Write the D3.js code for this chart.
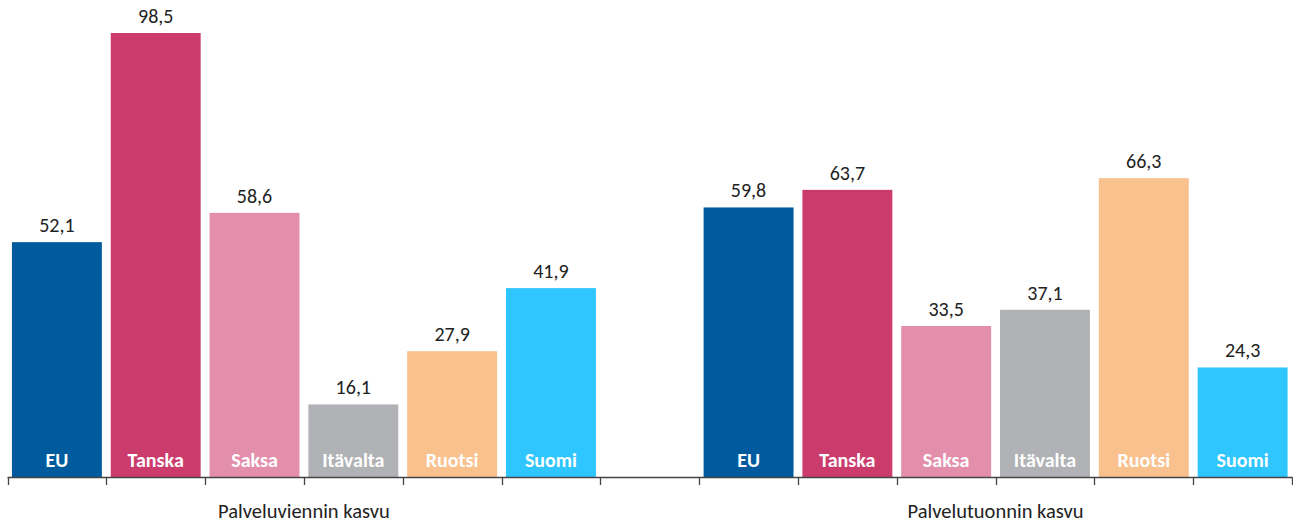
<!DOCTYPE html>
<html>
<head>
<meta charset="utf-8">
<script src="https://cdn.jsdelivr.net/npm/d3@7"></script>
<style>
  body { margin: 0; background: #fff; }
  svg { display: block; }
</style>
</head>
<body>
<svg id="chart" width="1293" height="523"></svg>
<script>
// Données
const groups = ["Palveluviennin kasvu", "Palvelutuonnin kasvu"];
const countries = ["EU", "Tanska", "Saksa", "Itävalta", "Ruotsi", "Suomi"];
const exportValues = [52.1, 98.5, 58.6, 16.1, 27.9, 41.9];
const importValues = [59.8, 63.7, 33.5, 37.1, 66.3, 24.3];
const colors = ["#005a9e", "#cb3c6d", "#e38fab", "#b1b2b5", "#f9c18e", "#2fc5fe"];

const svg = d3.select("#chart");
const font = "Carlito, 'Open Sans', sans-serif";

// rows : 6 barres, une case vide, 6 barres
const rows = [];
exportValues.forEach((v, i) => rows.push({key: "a" + i, name: countries[i], value: v, color: colors[i]}));
rows.push({key: "gap", name: "", value: null});
importValues.forEach((v, i) => rows.push({key: "b" + i, name: countries[i], value: v, color: colors[i]}));

const x = d3.scaleBand()
    .domain(rows.map(d => d.key))
    .range([7.5, 1292])
    .paddingInner(0.09)
    .paddingOuter(0.045);

const y = d3.scaleLinear()
    .domain([0, 98.5])
    .range([477, 33]);

const step = x.step();
const x0 = 7.5;

// Barres
const bars = svg.selectAll(".bar")
    .data(rows.filter(d => d.value !== null))
    .enter()
    .append("g");

bars.append("rect")
    .attr("x", d => x(d.key))
    .attr("width", x.bandwidth())
    .attr("y", d => y(d.value))
    .attr("height", d => y(0) - y(d.value))
    .attr("fill", d => d.color);

// Valeurs
bars.append("text")
    .attr("x", d => x(d.key) + x.bandwidth() / 2)
    .attr("y", d => y(d.value) - 10)
    .attr("text-anchor", "middle")
    .attr("font-family", font)
    .attr("font-size", 20)
    .attr("fill", "#222")
    .text(d => d3.format(".1f")(d.value).replace(".", ","));

// Noms des pays
bars.append("text")
    .attr("x", d => x(d.key) + x.bandwidth() / 2)
    .attr("y", 467)
    .attr("text-anchor", "middle")
    .attr("font-family", font)
    .attr("font-weight", "bold")
    .attr("font-size", 20)
    .attr("fill", "#fff")
    .text(d => d.name);

// Axe
svg.append("line")
    .attr("x1", x0)
    .attr("x2", 1292)
    .attr("y1", 477.5)
    .attr("y2", 477.5)
    .attr("stroke", "#444")
    .attr("stroke-width", 1.3);

d3.range(rows.length + 1).forEach(i => {
    const tx = Math.round(x0 + i * step) + 0.5;
    svg.append("line")
        .attr("x1", tx)
        .attr("x2", tx)
        .attr("y1", 477)
        .attr("y2", 485)
        .attr("stroke", "#444")
        .attr("stroke-width", 1.3);
});

// Groupes
groups.forEach((g, i) => {
    const start = x0 + i * 7 * step;
    svg.append("text")
        .attr("x", start + 3 * step)
        .attr("y", 518)
        .attr("text-anchor", "middle")
        .attr("font-family", font)
        .attr("font-size", 20.5)
        .attr("fill", "#222")
        .text(g);
});
</script>
</body>
</html>
